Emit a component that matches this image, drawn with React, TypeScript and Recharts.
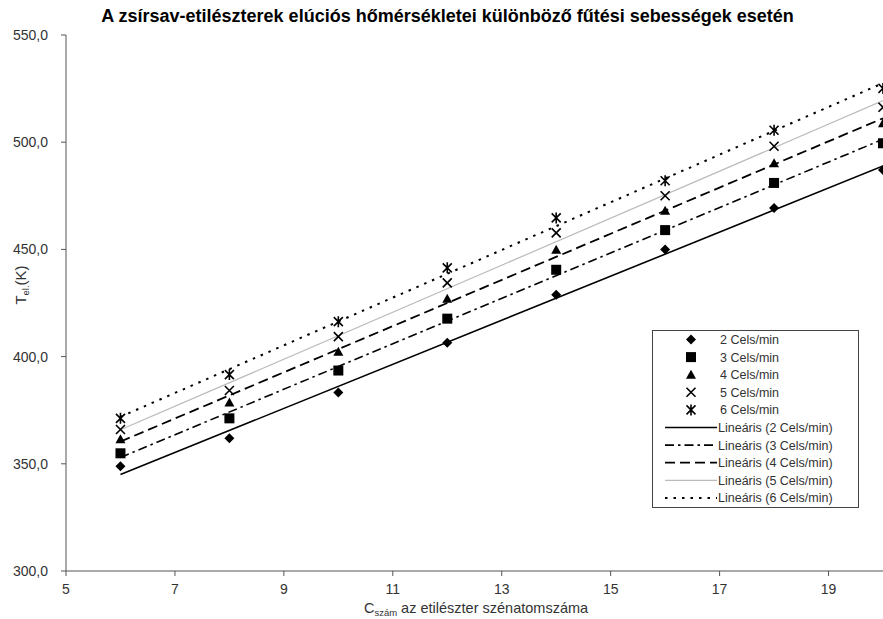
import React from 'react';
import { ComposedChart, Scatter, XAxis, YAxis, Legend } from 'recharts';

// carbon number of the ethyl ester (x) and elution temperature in K (y)
const carbonNumbers = [6, 8, 10, 12, 14, 16, 18, 20];
const rate2 = [348.8, 361.9, 383.3, 406.5, 428.8, 450.0, 469.3, 487.0];
const rate3 = [354.9, 371.2, 393.5, 417.7, 440.5, 459.0, 481.0, 499.5];
const rate4 = [361.4, 378.6, 402.3, 427.0, 449.8, 468.0, 490.2, 508.8];
const rate5 = [366.0, 384.2, 409.3, 434.4, 457.7, 475.0, 498.1, 516.3];
const rate6 = [371.2, 391.6, 416.3, 441.4, 464.7, 482.0, 505.6, 525.1];

const seriesNames = ['2 Cels/min', '3 Cels/min', '4 Cels/min', '5 Cels/min', '6 Cels/min'];
const xTicks = [5, 7, 9, 11, 13, 15, 17, 19];
const yTicks = [300, 350, 400, 450, 500, 550];

const FONT = '"Liberation Sans", Arial, Helvetica, sans-serif';
const TEXT = '#333';

const toPoints = (ys: number[]) => carbonNumbers.map((x, i) => ({ x, y: ys[i] }));

// least squares trend line, like Excel's "Lineáris" trendline
const fitLine = (ys: number[]) => {
  const n = carbonNumbers.length;
  const mx = carbonNumbers.reduce((a, b) => a + b, 0) / n;
  const my = ys.reduce((a, b) => a + b, 0) / n;
  let sxy = 0, sxx = 0;
  carbonNumbers.forEach((x, i) => { sxy += (x - mx) * (ys[i] - my); sxx += (x - mx) * (x - mx); });
  const slope = sxy / sxx;
  const x0 = carbonNumbers[0], x1 = carbonNumbers[n - 1];
  return [{ x: x0, y: my + slope * (x0 - mx) }, { x: x1, y: my + slope * (x1 - mx) }];
};

const Diamond = ({ cx, cy }: any) => (
  <polygon points={`${cx},${cy - 5} ${cx + 5},${cy} ${cx},${cy + 5} ${cx - 5},${cy}`} fill="#000" />
);
const Square = ({ cx, cy }: any) => <rect x={cx - 5} y={cy - 5} width={10} height={10} fill="#000" />;
const Triangle = ({ cx, cy }: any) => (
  <polygon points={`${cx},${cy - 5} ${cx + 5},${cy + 4} ${cx - 5},${cy + 4}`} fill="#000" />
);
const Cross = ({ cx, cy }: any) => (
  <path d={`M${cx - 4.5},${cy - 4.5}L${cx + 4.5},${cy + 4.5}M${cx + 4.5},${cy - 4.5}L${cx - 4.5},${cy + 4.5}`} stroke="#000" strokeWidth={1.6} />
);
const Star = ({ cx, cy }: any) => (
  <path d={`M${cx - 4.5},${cy - 4.5}L${cx + 4.5},${cy + 4.5}M${cx + 4.5},${cy - 4.5}L${cx - 4.5},${cy + 4.5}M${cx},${cy - 5.5}L${cx},${cy + 5.5}`} stroke="#000" strokeWidth={1.6} />
);
const NoDot = () => <g />;

const markers = [Diamond, Square, Triangle, Cross, Star];
const lineStyles = [
  { stroke: '#000', strokeWidth: 1.6, strokeDasharray: undefined },
  { stroke: '#000', strokeWidth: 1.6, strokeDasharray: '9 4 2.5 4' },
  { stroke: '#000', strokeWidth: 1.8, strokeDasharray: '10 5' },
  { stroke: '#bbb', strokeWidth: 1.2, strokeDasharray: undefined },
  { stroke: '#000', strokeWidth: 2, strokeDasharray: '2.5 6' },
];
const allRates = [rate2, rate3, rate4, rate5, rate6];

const LegendBox = () => {
  const rowH = 17.6;
  return (
    <svg width={207} height={178} style={{ display: 'block' }}>
      <rect x={0.5} y={0.5} width={206} height={177} fill="#fff" stroke="#444" />
      {seriesNames.map((name, i) => {
        const M = markers[i];
        const cy = 9.5 + i * rowH;
        return (
          <g key={name}>
            <M cx={39} cy={cy} />
            <text x={68} y={cy + 4.5} fontSize={12.5} fill={TEXT} fontFamily={FONT}>{name}</text>
          </g>
        );
      })}
      {seriesNames.map((name, i) => {
        const cy = 9.5 + (i + 5) * rowH;
        const s = lineStyles[i];
        return (
          <g key={'lin' + name}>
            <line x1={13} x2={65} y1={cy} y2={cy} stroke={s.stroke} strokeWidth={s.strokeWidth} strokeDasharray={s.strokeDasharray} />
            <text x={66} y={cy + 4.5} fontSize={12.5} fill={TEXT} fontFamily={FONT}>{`Lineáris (${name})`}</text>
          </g>
        );
      })}
    </svg>
  );
};

const XTitle = () => (
  <text x={476} y={613} textAnchor="middle" fontSize={14.5} style={{ fill: TEXT }} fontFamily={FONT}>
    <tspan>C</tspan>
    <tspan fontSize={9.5} dy={3}>szám</tspan>
    <tspan dy={-3}> az etilészter szénatomszáma</tspan>
  </text>
);

const YTitle = () => (
  <text x={0} y={0} transform="translate(26,285) rotate(-90)" textAnchor="middle" fontSize={15} style={{ fill: TEXT }} fontFamily={FONT}>
    <tspan>T</tspan>
    <tspan fontSize={9.5} dy={3}>el.</tspan>
    <tspan dy={-3}>(K)</tspan>
  </text>
);

const fmt = (v: number) => v.toFixed(1).replace('.', ',');

export default function App() {
  return (
    <div style={{ position: 'absolute', left: 0, top: 0, width: 883, height: 619, background: '#fff', overflow: 'hidden' }}>
      <div style={{ position: 'absolute', left: 0, width: 895, top: 6, textAlign: 'center', fontFamily: FONT, fontWeight: 'bold', fontSize: 18, color: '#000' }}>
        A zsírsav-etilészterek elúciós hőmérsékletei különböző fűtési sebességek esetén
      </div>
      <ComposedChart width={883} height={619} margin={{ top: 35, right: 0, bottom: 0, left: 0 }}>
        <XAxis
          type="number"
          dataKey="x"
          domain={[5, 20]}
          ticks={xTicks}
          allowDataOverflow
          height={48}
          stroke="#555"
          tickSize={5}
          tickMargin={8}
          tick={{ fill: TEXT, fontSize: 14, fontFamily: FONT }}
          label={<XTitle />}
        />
        <YAxis
          type="number"
          dataKey="y"
          domain={[300, 550]}
          ticks={yTicks}
          width={66}
          stroke="#555"
          tickSize={5}
          tickMargin={13}
          tickFormatter={fmt}
          tick={{ fill: TEXT, fontSize: 14, fontFamily: FONT }}
          label={<YTitle />}
        />
        {allRates.map((r, i) => (
          <Scatter
            key={'trend' + i}
            data={fitLine(r)}
            shape={NoDot}
            line={{ stroke: lineStyles[i].stroke, strokeWidth: lineStyles[i].strokeWidth, strokeDasharray: lineStyles[i].strokeDasharray }}
            fill="none"
            legendType="none"
            isAnimationActive={false}
          />
        ))}
        {allRates.map((r, i) => (
          <Scatter
            key={'pts' + i}
            name={seriesNames[i]}
            data={toPoints(r)}
            shape={markers[i]}
            fill="#000"
            isAnimationActive={false}
          />
        ))}
        <Legend
          layout="vertical"
          align="center"
          verticalAlign="middle"
          content={<LegendBox />}
          wrapperStyle={{ position: 'absolute', left: 652, top: 330, width: 207, height: 178 }}
        />
      </ComposedChart>
    </div>
  );
}
